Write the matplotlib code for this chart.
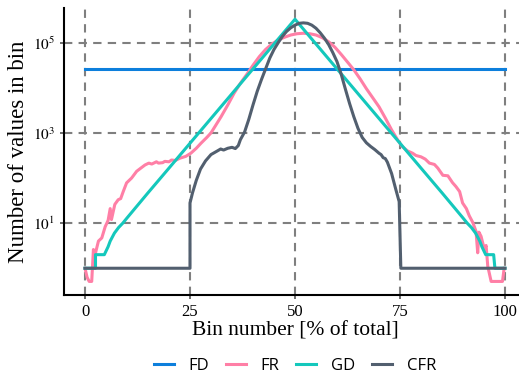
import numpy as np
import matplotlib
matplotlib.use("Agg")
import matplotlib.pyplot as plt

plt.rcParams['font.family'] = ['Liberation Serif', 'DejaVu Serif']
plt.rcParams['mathtext.fontset'] = 'stix'

# FD: flat
fd_x = [0, 100]
fd_y = [25700, 25700]

# GD: symmetric "tent" on a log axis
gd_x = [0, 2.5, 2.5, 4.6, 5.5, 6, 7, 8, 9, 10, 15, 20, 25, 30, 35, 40, 45, 50,
        55, 60, 65, 70, 75, 80, 85, 90, 91, 92, 93, 94, 94.5, 95.4, 97.3, 97.6, 100]
gd_y = [1, 1, 2, 2, 3, 4, 6, 8, 10, 13, 47, 166, 590, 2090, 7410, 26300, 93300, 331000,
        93300, 26300, 7410, 2090, 590, 166, 47, 13, 10, 8, 6, 4, 3, 2, 2, 1, 1]

# FR
fr_x = [0, 0.5, 1, 1.6, 2.0, 2.4, 3.2, 4.0, 4.8, 5.5, 6.0, 6.3, 7.1, 7.9, 8.5, 9.1, 9.9,
        11.1, 12.3, 13.3, 14.3, 15.2, 15.9, 17, 17.5, 18.5, 19, 20, 20.6, 21.5, 22.6, 24,
        25.2, 26.5, 27.6, 29, 30, 31, 32.4, 34, 35.5, 37, 38.7, 40, 41.5, 43, 44.5, 46,
        47.5, 49, 50.5, 52, 53.5, 55, 56.5, 58, 59.5, 61, 62.5, 64, 65.5, 67, 68.5, 70,
        71.5, 73, 74.4, 75.5, 76.8, 78, 78.8, 80, 81, 82, 83.2, 84, 85.2, 86.4, 87.5, 88.3,
        89.2, 89.9, 90.8, 91.5, 92.3, 93.1, 93.5, 93.8, 94.3, 95.1, 95.5, 95.9, 96.7, 99.4, 99.8]
fr_y = [1, 0.63, 0.51, 0.51, 2.6, 2.0, 4.0, 4.7, 8.3, 11.5, 21, 12, 26, 33, 35, 50, 78,
        100, 141, 166, 195, 214, 204, 229, 214, 219, 234, 229, 251, 245, 275, 302,
        355, 457, 589, 794, 1000, 1410, 2290, 4170, 7590, 12600, 20900, 31600, 49000, 70800, 93300, 115000,
        132000, 148000, 158000, 162000, 158000, 148000, 129000, 105000, 79400, 55000, 37200, 25100, 15800, 9550, 6030, 3800,
        2140, 1170, 708, 501, 398, 355, 316, 295, 263, 214, 200, 166, 115, 112, 79, 65,
        50, 28, 21, 14.5, 10.5, 6.6, 2.2, 6.3, 5.1, 2.6, 3.2, 1.1, 0.51, 0.51, 1]

# CFR
cfr_x = [0, 25, 25, 25.6, 26.5, 27.5, 28.7, 30, 31.5, 32.3, 33, 34, 35, 35.8, 36.5, 37, 38, 39,
         40, 41, 42, 43, 44, 45, 46, 47, 48, 49, 50, 51, 52, 53, 54, 55, 56, 57, 58, 59,
         60, 61, 62, 63, 64, 65, 66, 67, 68, 69, 70, 70.5, 71, 71.5, 72, 73, 74, 74.8, 75.2, 100]
cfr_y = [1, 1, 28, 47, 89, 158, 240, 331, 398, 440, 417, 457, 479, 450, 525, 708, 1050, 2000,
         4170, 8320, 15100, 26300, 45700, 70800, 100000, 138000, 178000, 214000, 245000, 269000, 275000, 269000, 245000, 209000, 166000, 126000, 91200, 60300,
         38000, 20000, 9330, 4470, 2290, 1260, 794, 603, 501, 427, 355, 330, 282, 270, 224, 126, 56, 30, 1, 1]

names = ["FD", "FR", "GD", "CFR"]
colors = ["#0d7fdc", "#ff7fa6", "#14c8bc", "#525f6f"]

fig = plt.figure(figsize=(5.19, 3.75), dpi=100)
ax = fig.add_axes([64 / 519, 0.2125, 462 / 519, 0.7675])

for xs, ys, name, c in zip([fd_x, fr_x, gd_x, cfr_x], [fd_y, fr_y, gd_y, cfr_y], names, colors):
    ax.plot(xs, ys, color=c, lw=2.2, label=name, solid_joinstyle='round')

ax.set_yscale('log')
ax.set_xlim(-5, 105)
ax.set_ylim(10 ** -0.6, 10 ** 5.78)
ax.set_xticks([0, 25, 50, 75, 100])
ax.set_yticks([10, 1000, 100000])
ax.set_yticklabels([r'$10^1$', r'$10^3$', r'$10^5$'])
ax.minorticks_off()
ax.grid(True, color='#7f7f7f', lw=1.5, linestyle=(0, (4, 3)))
ax.set_axisbelow(True)
for s in ['top', 'right']:
    ax.spines[s].set_visible(False)
for s in ['left', 'bottom']:
    ax.spines[s].set_linewidth(1.5)
ax.tick_params(length=3, width=1.2, color='#555555')
ax.tick_params(axis='x', labelsize=12)
ax.tick_params(axis='y', labelsize=11)

ax.set_xlabel("Bin number [% of total]", fontsize=15.5, labelpad=1)
ax.set_ylabel("Number of values in bin", fontsize=16.5, labelpad=3)

ax.legend(loc='center', bbox_to_anchor=(0.5, -0.245), ncol=4, frameon=False,
          prop={'family': 'Open Sans', 'size': 12}, handlelength=1.2,
          handletextpad=0.9, columnspacing=1.0)

fig.savefig("out.png", dpi=100)
